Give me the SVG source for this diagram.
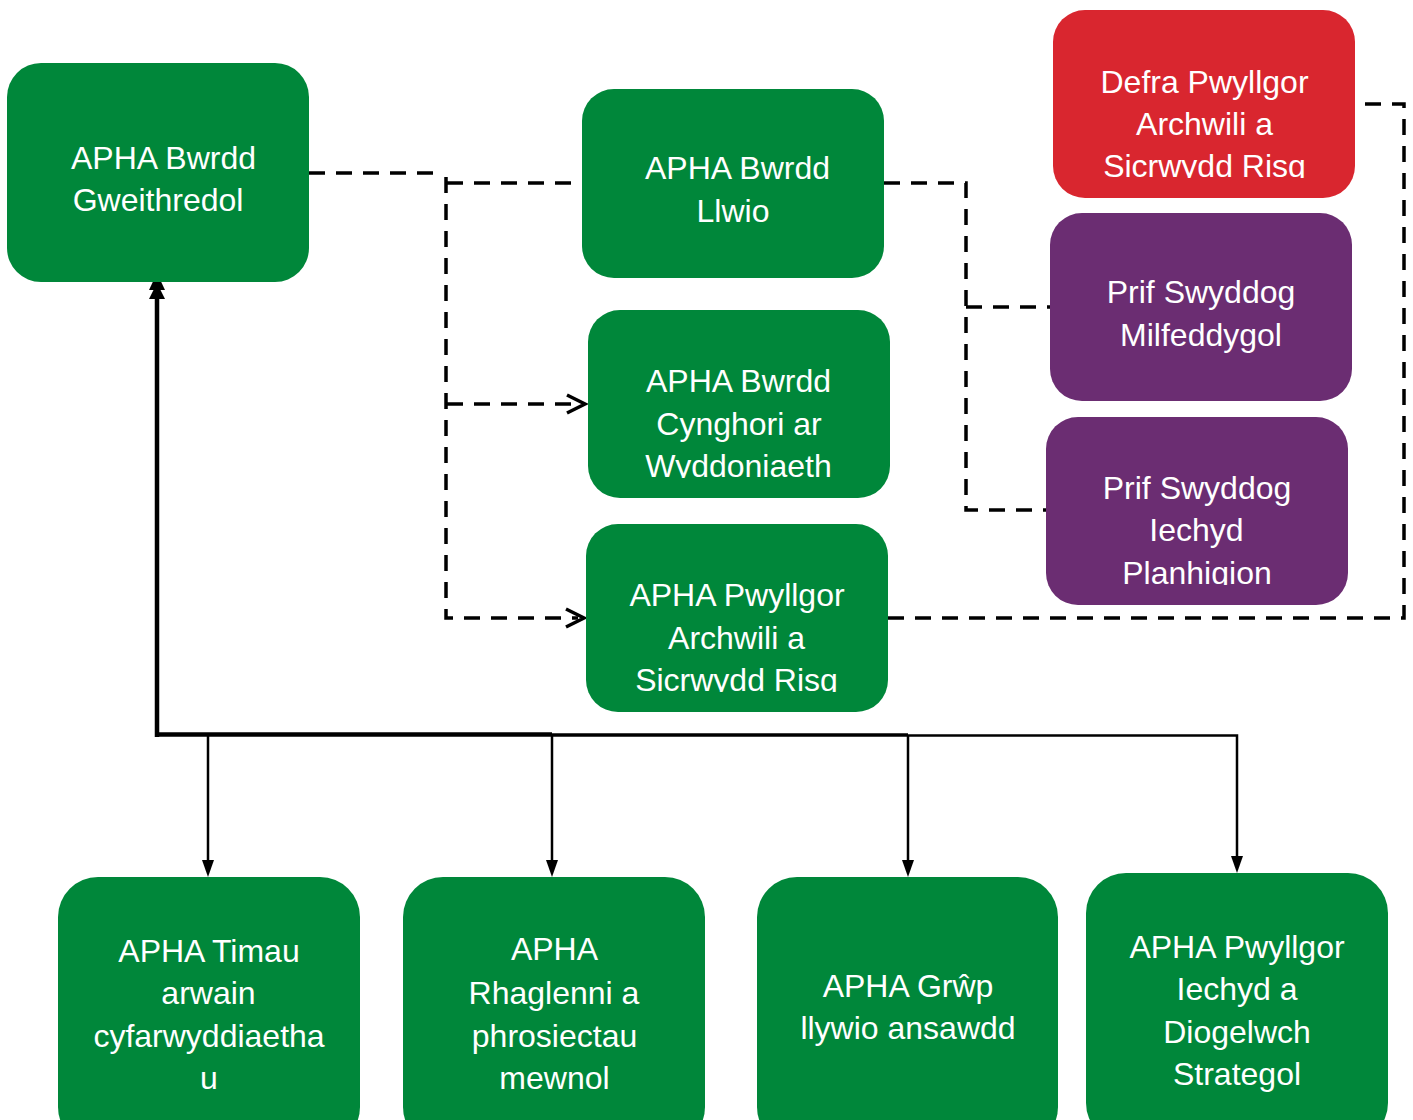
<svg xmlns="http://www.w3.org/2000/svg" width="1413" height="1120" viewBox="0 0 1413 1120">
<style>
.g{fill:#00873A}
.r{fill:#D9262F}
.p{fill:#6B2D72}
text{font-family:"Liberation Sans",Arial,sans-serif;font-size:32px;fill:#fff;text-anchor:middle}
.d{fill:none;stroke:#000;stroke-width:3.5;stroke-dasharray:16 11}
.c{fill:none;stroke:#000;stroke-width:3.5}
.s{fill:none;stroke:#000}
.h{fill:#000}
</style>
<defs>
<clipPath id="c3"><rect x="588" y="310" width="302" height="168"/></clipPath>
<clipPath id="c4"><rect x="586" y="524" width="302" height="168"/></clipPath>
<clipPath id="c5"><rect x="1053" y="10" width="302" height="168"/></clipPath>
<clipPath id="c7"><rect x="1046" y="417" width="302" height="168"/></clipPath>
</defs>
<rect width="1413" height="1120" fill="#fff"/>

<g id="connectors">
<path class="d" d="M309,173 H440"/>
<path class="d" d="M446,177 V618 H578"/>
<path class="d" d="M447,183 H582"/>
<path class="d" d="M447,404 H580"/>
<polyline class="c" points="567,395 585,404 567,413"/>
<polyline class="c" points="566,609 584,618 566,627"/>
<path class="d" d="M884,183 H966 V510 H1046"/>
<path class="d" d="M966,307 H1050"/>
<path class="d" d="M888,618 H1404 V104 H1355"/>
<path class="s" stroke-width="4.5" d="M157,737 V288"/>
<polygon class="h" points="157,273 149,290 165,290"/>
<polygon class="h" points="157,283 149,299 165,299"/>
<path class="s" stroke-width="4.5" d="M155,734.5 H552"/>
<path class="s" stroke-width="3.5" d="M552,735 H908"/>
<path class="s" stroke-width="2.5" d="M908,735.5 H1237 V862"/>
<path class="s" stroke-width="2.5" d="M208,735 V862"/>
<path class="s" stroke-width="2.5" d="M552,735 V862"/>
<path class="s" stroke-width="2.5" d="M908,735 V862"/>
<polygon class="h" points="208,877 202,860 214,860"/>
<polygon class="h" points="552,877 546,860 558,860"/>
<polygon class="h" points="908,877 902,860 914,860"/>
<polygon class="h" points="1237,873 1231,856 1243,856"/>
</g>

<g id="n-gweithredol">
<rect class="g" x="7" y="63" width="302" height="219" rx="34"/>
<text x="163.5" y="169">APHA Bwrdd</text>
<text x="158" y="211">Gweithredol</text>
</g>

<g id="n-llwio">
<rect class="g" x="582" y="89" width="302" height="189" rx="32"/>
<text x="737.5" y="179">APHA Bwrdd</text>
<text x="733" y="222">Llwio</text>
</g>

<g id="n-cynghori">
<rect class="g" x="588" y="310" width="302" height="188" rx="32"/>
<g clip-path="url(#c3)">
<text x="738.5" y="392">APHA Bwrdd</text>
<text x="739" y="435">Cynghori ar</text>
<text x="738.5" y="477">Wyddoniaeth</text>
</g>
</g>

<g id="n-archwili">
<rect class="g" x="586" y="524" width="302" height="188" rx="32"/>
<g clip-path="url(#c4)">
<text x="737" y="606">APHA Pwyllgor</text>
<text x="736.5" y="649">Archwili a</text>
<text x="736.5" y="691">Sicrwydd Risg</text>
</g>
</g>

<g id="n-defra">
<rect class="r" x="1053" y="10" width="302" height="188" rx="32"/>
<g clip-path="url(#c5)">
<text x="1204.5" y="93">Defra Pwyllgor</text>
<text x="1204.5" y="135">Archwili a</text>
<text x="1204.5" y="177">Sicrwydd Risg</text>
</g>
</g>

<g id="n-milfeddygol">
<rect class="p" x="1050" y="213" width="302" height="188" rx="32"/>
<text x="1201" y="303">Prif Swyddog</text>
<text x="1201" y="346">Milfeddygol</text>
</g>

<g id="n-planhigion">
<rect class="p" x="1046" y="417" width="302" height="188" rx="32"/>
<g clip-path="url(#c7)">
<text x="1197" y="499">Prif Swyddog</text>
<text x="1196.5" y="541">Iechyd</text>
<text x="1197" y="584">Planhigion</text>
</g>
</g>

<g id="n-timau">
<rect class="g" x="58" y="877" width="302" height="270" rx="40"/>
<text x="209" y="962">APHA Timau</text>
<text x="208.5" y="1004">arwain</text>
<text x="209" y="1047">cyfarwyddiaetha</text>
<text x="209" y="1089">u</text>
</g>

<g id="n-rhaglenni">
<rect class="g" x="403" y="877" width="302" height="270" rx="40"/>
<text x="554.5" y="960">APHA</text>
<text x="554" y="1004">Rhaglenni a</text>
<text x="554.5" y="1047">phrosiectau</text>
<text x="554.5" y="1089">mewnol</text>
</g>

<g id="n-grwp">
<rect class="g" x="757" y="877" width="301" height="270" rx="40"/>
<text x="908" y="997">APHA Grŵp</text>
<text x="908" y="1039">llywio ansawdd</text>
</g>

<g id="n-strategol">
<rect class="g" x="1086" y="873" width="302" height="270" rx="40"/>
<text x="1237" y="958">APHA Pwyllgor</text>
<text x="1237" y="1000">Iechyd a</text>
<text x="1237" y="1043">Diogelwch</text>
<text x="1237" y="1085">Strategol</text>
</g>
</svg>
